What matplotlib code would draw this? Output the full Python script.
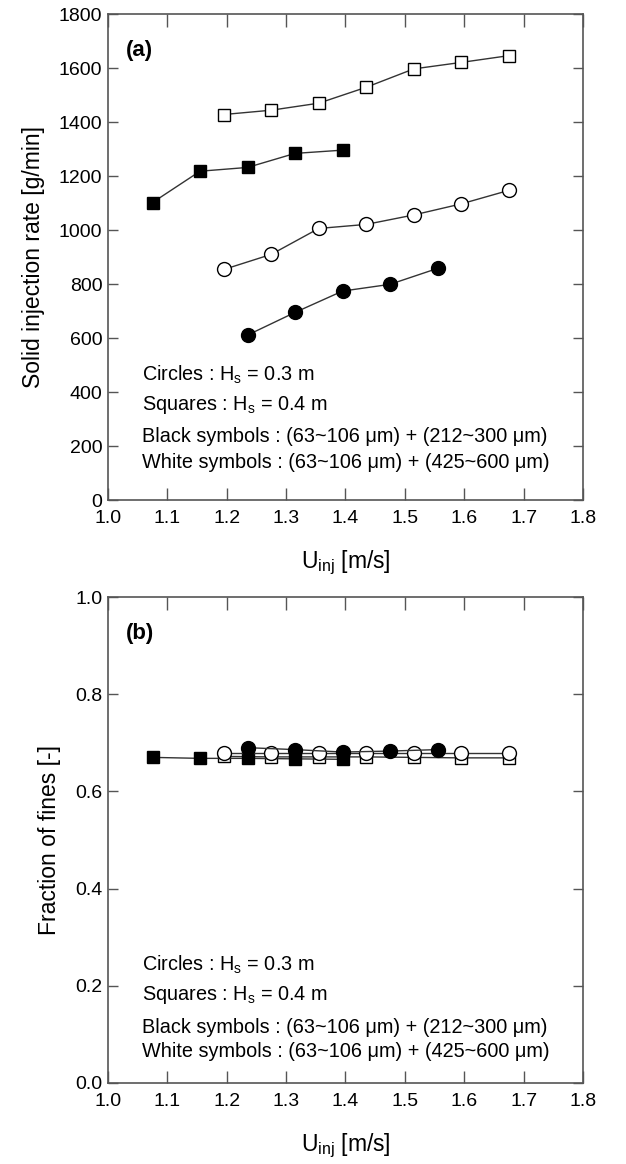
import matplotlib
matplotlib.use("Agg")
import matplotlib.pyplot as plt

plt.rcParams['font.family'] = ['Liberation Sans', 'DejaVu Sans']
plt.rcParams['mathtext.fontset'] = 'custom'
plt.rcParams['mathtext.rm'] = 'Liberation Sans'
plt.rcParams['mathtext.it'] = 'Liberation Sans'

# (a) solid injection rate vs injection velocity
u_black_sq = [1.075, 1.155, 1.235, 1.315, 1.395]
rate_black_sq = [1102, 1218, 1232, 1284, 1296]

u_white_sq = [1.195, 1.275, 1.355, 1.435, 1.515, 1.595, 1.675]
rate_white_sq = [1428, 1444, 1470, 1529, 1597, 1621, 1646]

u_black_ci = [1.235, 1.315, 1.395, 1.475, 1.555]
rate_black_ci = [611, 695, 774, 799, 858]

u_white_ci = [1.195, 1.275, 1.355, 1.435, 1.515, 1.595, 1.675]
rate_white_ci = [854, 910, 1006, 1021, 1056, 1097, 1147]

# (b) fraction of fines
fines_black_sq = [0.670, 0.668, 0.668, 0.667, 0.666]
fines_white_sq = [0.672, 0.671, 0.671, 0.671, 0.670, 0.669, 0.669]
fines_black_ci = [0.690, 0.686, 0.681, 0.683, 0.686]
fines_white_ci = [0.679, 0.679, 0.679, 0.679, 0.679, 0.679, 0.679]

note_lines = ["Circles : H$_\\mathregular{s}$ = 0.3 m",
              "Squares : H$_\\mathregular{s}$ = 0.4 m",
              "Black symbols : (63~106 \u03bcm) + (212~300 \u03bcm)",
              "White symbols : (63~106 \u03bcm) + (425~600 \u03bcm)"]

line_c = '#333333'
spine_c = '#555555'

fig = plt.figure(figsize=(6.26, 11.64), dpi=100)
ax1 = fig.add_axes([0.1725, 0.5704, 0.7588, 0.4175])
ax2 = fig.add_axes([0.1725, 0.0696, 0.7588, 0.4175])


def draw_series(ax, sq_b, sq_w, ci_b, ci_w):
    kw = dict(color=line_c, lw=1.0, mec='black', mew=1.0)
    ax.plot(u_white_sq, sq_w, marker='s', ms=9, mfc='white', **kw)
    ax.plot(u_black_sq, sq_b, marker='s', ms=9, mfc='black', **kw)
    ax.plot(u_white_ci, ci_w, marker='o', ms=10, mfc='white', **kw)
    ax.plot(u_black_ci, ci_b, marker='o', ms=10, mfc='black', **kw)


draw_series(ax1, rate_black_sq, rate_white_sq, rate_black_ci, rate_white_ci)
draw_series(ax2, fines_black_sq, fines_white_sq, fines_black_ci, fines_white_ci)

ax1.set_ylim(0, 1800)
ax1.set_yticks(range(0, 1801, 200))
ax1.set_ylabel("Solid injection rate [g/min]", fontsize=16.5, labelpad=10)
ax2.set_ylim(0, 1.0)
ax2.set_yticks([0.0, 0.2, 0.4, 0.6, 0.8, 1.0])
ax2.set_yticklabels(["0.0", "0.2", "0.4", "0.6", "0.8", "1.0"])
ax2.set_ylabel("Fraction of fines [-]", fontsize=16.5, labelpad=10)

for ax, tag, ys in [(ax1, "(a)", [0.257, 0.195, 0.13, 0.078]),
                    (ax2, "(b)", [0.243, 0.181, 0.115, 0.064])]:
    ax.set_xlim(1.0, 1.8)
    ax.set_xticks([1.0, 1.1, 1.2, 1.3, 1.4, 1.5, 1.6, 1.7, 1.8])
    ax.set_xlabel("U$_\\mathregular{inj}$ [m/s]", fontsize=16.5, labelpad=16)
    ax.tick_params(axis='both', direction='in', labelsize=14, colors=spine_c,
                   labelcolor='black', width=1.0, top=True, right=True)
    ax.tick_params(axis='x', length=9, pad=7)
    ax.tick_params(axis='y', length=7, pad=4)
    for s in ax.spines.values():
        s.set_color(spine_c)
        s.set_linewidth(1.2)
    ax.text(0.037, 0.925, tag, transform=ax.transAxes, fontsize=16,
            fontweight='bold', va='center', ha='left')
    for txt, y in zip(note_lines, ys):
        ax.text(0.072, y, txt, transform=ax.transAxes, fontsize=14.3,
                va='center', ha='left')

fig.savefig("out.png", dpi=100)
